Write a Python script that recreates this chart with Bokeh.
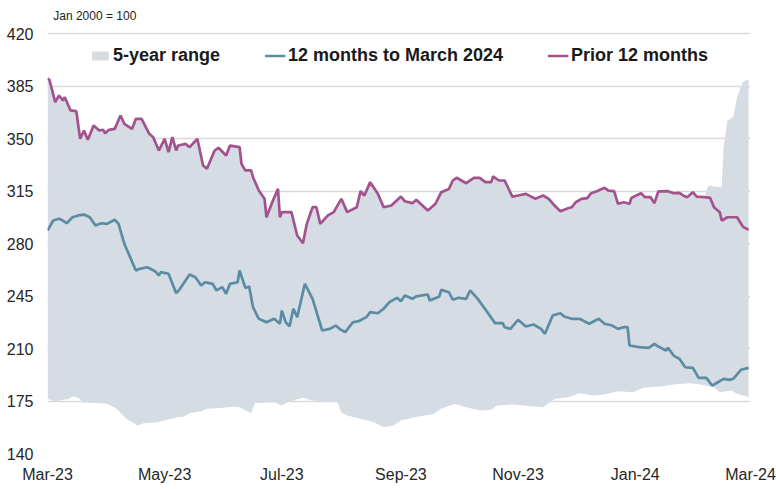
import pandas as pd
from bokeh.plotting import figure
from bokeh.models import (Range1d, FixedTicker, DatetimeTickFormatter, Legend,
                          LegendItem, Label)
from bokeh.embed import file_html
from bokeh.resources import INLINE

# ---------------- data ----------------
base_date = "2023-03-01"   # day 0

# Prior 12 months (days since base_date, index Jan 2000 = 100)
prior_day = [0, 1, 2, 4, 6, 8, 9, 12, 15, 17, 19, 21, 24, 27, 29, 30, 32, 35, 38, 40,
             44, 46, 49, 53, 55, 58, 61, 63, 65, 67, 68, 72, 74, 78, 81, 83, 87, 89, 93, 95,
             100, 101, 103, 106, 107, 110, 113, 114, 117, 120, 121, 122, 127, 130, 133, 135, 138, 140, 142, 146,
             149, 153, 156, 161, 163, 165, 168, 172, 175, 179, 184, 186, 190, 192, 198, 202, 205, 209, 211, 213,
             218, 222, 225, 228, 231, 232, 235, 238, 242, 245, 249, 254, 258, 261, 264, 267, 271, 273, 275, 278,
             281, 283, 286, 290, 292, 295, 297, 300, 303, 304, 309, 311, 314, 316, 318, 323, 326, 329, 331, 333,
             336, 338, 342, 345, 347, 350, 351, 354, 359, 362, 365]
prior_val = [390, 389.1, 384.2, 374.2, 378.7, 375.3, 377.5, 368.7, 368.2, 349.8,
             355.3, 349.1, 358.7, 355.3, 355.8, 353.5, 355.8, 356.4, 365.3, 359.8,
             356.4, 363.1, 363.1, 353.1, 350.9, 342, 349.8, 340.9, 350.9, 342,
             345.3, 346.4, 344.2, 349.8, 332, 329.8, 342, 343.8, 338.7, 345.3,
             344.2, 333.1, 328.7, 328.7, 324.2, 315.3, 309.8, 297.5, 307.5, 316.4,
             297.5, 300.9, 300.9, 285.3, 280.2, 293.1, 304.2, 304.2, 293.1, 298.7,
             300.9, 309.8, 300.9, 304.2, 314.9, 312, 320.9, 313.1, 304.2, 305.3,
             311.3, 308.2, 306.9, 309.1, 302, 306.5, 314.2, 316.4, 322, 323.8,
             320.2, 323.8, 323.8, 320.9, 320.9, 324.7, 322, 322, 311.3, 312,
             313.1, 309.8, 312, 309.8, 305.3, 301.5, 303.5, 304.2, 307.5, 309.8,
             310.2, 313.5, 314.9, 317.1, 315.3, 314.9, 306.5, 307.5, 306.5, 310.4,
             313.5, 310.9, 310.9, 306.9, 314.7, 314.9, 313.5, 313.8, 312, 310.9,
             314.2, 311.3, 310.9, 310.4, 304.2, 300.9, 295.3, 297.5, 297.5, 291.3,
             289.1]

# 12 months to March 2024
cur_day = [0, 3, 6, 8, 10, 13, 16, 19, 22, 25, 28, 31, 35, 37, 40, 43, 46, 48, 52, 56,
           58, 59, 63, 67, 69, 74, 77, 80, 82, 86, 88, 91, 93, 95, 99, 100, 103, 105, 107, 110,
           114, 118, 121, 122, 124, 126, 128, 130, 134, 138, 143, 147, 150, 152, 155, 159, 162, 166, 168, 172,
           175, 178, 182, 184, 186, 190, 192, 198, 199, 204, 205, 209, 211, 214, 218, 220, 224, 229, 233, 237,
           238, 241, 245, 249, 253, 257, 259, 263, 267, 269, 273, 277, 282, 287, 290, 294, 297, 300, 302, 303,
           308, 313, 316, 318, 322, 323, 326, 329, 332, 336, 339, 343, 346, 349, 352, 355, 357, 361, 365]
cur_val = [288.7, 295.3, 296.5, 295.3, 293.5, 297.5, 298.7, 299.3, 297.5, 292,
           293.5, 293.1, 295.8, 293.1, 279.8, 270.9, 262, 263.1, 264.2, 261.5,
           258.7, 260.9, 259.8, 246.9, 249.8, 259.3, 257.5, 252, 254.2, 253.1,
           248.7, 250.9, 246.5, 253.1, 254.2, 262, 250.4, 251.3, 237.5, 229.8,
           227.5, 229.8, 226.5, 235.3, 227.5, 224.7, 236.5, 230.9, 253.1, 243.1,
           222, 223.1, 225.3, 223.1, 220.9, 227.5, 228.2, 230.9, 234.2, 233.5,
           236.5, 240.9, 243.8, 241.5, 245.3, 243.1, 244.7, 246, 242, 244.7,
           249.1, 247.5, 242.5, 243.8, 243.1, 248.7, 243.1, 234.2, 226.9, 226.9,
           224.2, 223.1, 229.1, 224.7, 226, 223.1, 219.8, 232, 233.5, 231.3,
           229.8, 229.8, 226.5, 229.8, 226.5, 225.3, 223.1, 224.2, 224.2, 212,
           210.9, 210.4, 213.1, 211.3, 208.7, 210.4, 205.3, 203.1, 197.5, 197.1,
           190.4, 190.4, 185.3, 187.5, 189.8, 189.1, 189.8, 195.8, 197.1]

# 5-year range: the high equals the prior-12-months series up to day 342, then this tail
range_hi_cut = 342
range_hi_tail_day = [344, 347, 351, 352, 354, 357, 359, 362, 364, 365]
range_hi_tail_val = [318.7, 318, 317.5, 344.2, 362, 364.2, 377.5, 387.5, 389.1, 388.7]

# 5-year range low
range_lo_day = [0, 4, 11, 13, 16, 19, 31, 36, 41, 47, 50, 57, 62, 68, 71, 74, 80, 83, 90, 97,
                100, 106, 108, 118, 122, 125, 133, 138, 151, 153, 156, 163, 170, 175, 180, 184, 191, 201, 205, 212,
                218, 225, 231, 234, 243, 253, 258, 264, 271, 277, 284, 290, 297, 305, 310, 319, 328, 335, 340, 347,
                350, 356, 359, 364, 365]
range_lo_val = [176.4, 174.9, 176.4, 178, 177.1, 174.2, 173.1, 169.8, 163.1, 158.7,
                160.2, 160.9, 162.5, 164.2, 164.7, 166.9, 168.2, 169.8, 170.4, 171.3,
                170.9, 166.9, 173.6, 174.2, 172, 174.2, 177.1, 175.3, 174.2, 167.5,
                165.3, 163.1, 160.9, 157.5, 158.7, 162, 164.2, 166.4, 169.8, 173.1,
                170.9, 168.7, 169.1, 172, 172.7, 171.3, 170.9, 176.4, 177.5, 180.2,
                178.7, 179.3, 181.5, 180.9, 183.8, 184.7, 186.4, 186.9, 186, 184.2,
                180.9, 182, 179.8, 178, 177]

x_tick_dates = ["2023-03-01", "2023-05-01", "2023-07-01", "2023-09-01",
                "2023-11-01", "2024-01-01", "2024-03-01"]
y_ticks = [140, 175, 210, 245, 280, 315, 350, 385, 420]

series_names = ["5-year range", "12 months to March 2024", "Prior 12 months"]
unit_note = "Jan 2000 = 100"

# ---------------- build ----------------
b = pd.Timestamp(base_date)


def to_dates(days):
    return list(b + pd.to_timedelta(days, unit="D"))


prior_x = to_dates(prior_day)
cur_x = to_dates(cur_day)

hi_day = [d for d in prior_day if d <= range_hi_cut] + range_hi_tail_day
hi_val = [v for d, v in zip(prior_day, prior_val) if d <= range_hi_cut] + range_hi_tail_val
patch_x = to_dates(hi_day) + to_dates(range_lo_day[::-1])
patch_y = hi_val + range_lo_val[::-1]

FONT = "Liberation Sans"
AREA = "#D6DCE4"
BLUE = "#5A8DA2"
PURPLE = "#A4528E"


def ms(s):
    return pd.Timestamp(s).value / 1e6


p = figure(width=776, height=489, x_axis_type="datetime",
           output_backend="svg", toolbar_location=None,
           x_range=Range1d(ms("2023-03-01"), ms("2024-03-01")),
           y_range=Range1d(140, 140 + 453 / 1.5),
           min_border_left=47, min_border_right=26,
           min_border_top=0, min_border_bottom=36)
p.outline_line_color = None
p.background_fill_color = "white"
p.border_fill_color = "white"

r_area = p.patch(patch_x, patch_y, fill_color=AREA, line_color=None)
r_cur = p.line(cur_x, cur_val, line_color=BLUE, line_width=2.7)
r_prior = p.line(prior_x, prior_val, line_color=PURPLE, line_width=2.7)

# axes
p.xaxis.ticker = FixedTicker(ticks=[ms(d) for d in x_tick_dates])
fmt = "%b-%y"
p.xaxis.formatter = DatetimeTickFormatter(days=fmt, months=fmt, years=fmt, hours=fmt)
p.yaxis.ticker = FixedTicker(ticks=y_ticks)
for ax in (p.xaxis[0], p.yaxis[0]):
    ax.axis_line_color = None
    ax.major_tick_line_color = None
    ax.minor_tick_line_color = None
    ax.major_tick_out = 0
    ax.major_label_text_font = FONT
    ax.major_label_text_font_size = "16px"
    ax.major_label_text_color = "#262626"
p.xaxis.major_label_standoff = 12
p.yaxis.major_label_standoff = 14

p.xgrid.visible = False
p.ygrid.grid_line_color = "#D9D9D9"
p.ygrid.grid_line_width = 1.5

# legend
legend = Legend(items=[LegendItem(label=series_names[0], renderers=[r_area]),
                       LegendItem(label=series_names[1], renderers=[r_cur]),
                       LegendItem(label=series_names[2], renderers=[r_prior])],
                orientation="horizontal", location="top_center",
                label_text_font=FONT, label_text_font_size="18px",
                label_text_font_style="bold", label_text_color="#1a1a1a",
                glyph_width=21, glyph_height=11, label_standoff=3, spacing=44,
                padding=0, margin=45, border_line_color=None,
                background_fill_alpha=0)
p.add_layout(legend)

p.add_layout(Label(x=ms("2023-03-04"), y=431.7, text=unit_note,
                   text_font=FONT, text_font_size="12px", text_color="#222222",
                   text_baseline="middle", text_align="left"))

open("out.html", "w").write(file_html(p, INLINE))
